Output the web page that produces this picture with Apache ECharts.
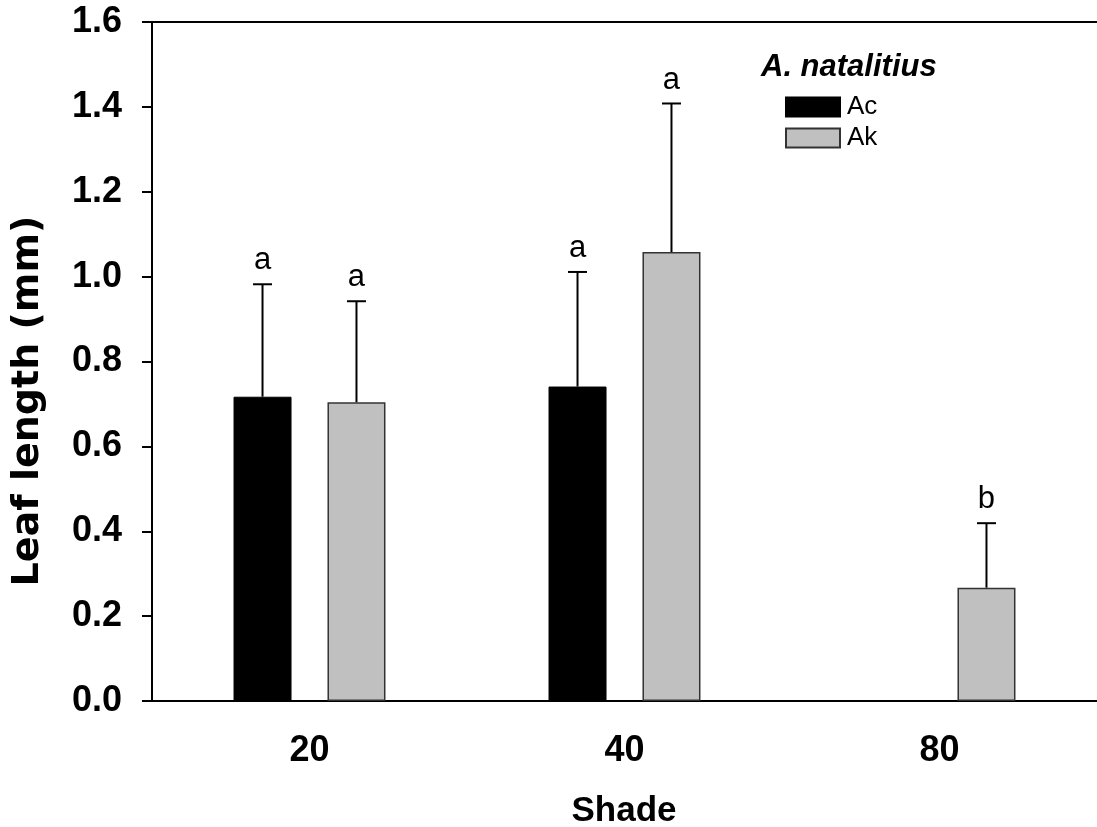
<!DOCTYPE html>
<html>
<head>
<meta charset="utf-8">
<script src="https://cdn.jsdelivr.net/npm/echarts@6/dist/echarts.min.js"></script>
<style>
html, body { margin: 0; padding: 0; background: #fff; }
#chart { width: 1097px; height: 827px; }
</style>
</head>
<body>
<div id="chart"></div>
<script>
// ---- values ----
const shadeLevels = ['20', '40', '80'];
const acMean = [0.717, 0.741, null];
const acErr = [0.265, 0.270, null];
const acLetters = ['a', 'a', ''];
const akMean = [0.704, 1.058, 0.267];
const akErr = [0.238, 0.350, 0.152];
const akLetters = ['a', 'a', 'b'];

// ---- look ----
const FONT = '"Liberation Sans", Arial, sans-serif';
const BAR_W = 58;
const BAR_GAP = 0.62;
const CAP_W = 19;

// upward-only error bar + significance letter, drawn over one bar series
function errorSeries(name, means, errs, letters, side) {
    return {
        type: 'custom',
        name: name + '-err',
        z: 5,
        silent: true,
        data: means.map((m, i) => [i, m == null ? 0 : m]),
        renderItem(params, api) {
            const i = params.dataIndex;
            if (means[i] == null) return null;
            const base = api.coord([i, means[i]]);
            const top = api.coord([i, means[i] + errs[i]]);
            const x = base[0] + side * BAR_W * (1 + BAR_GAP) / 2;
            const ink = { stroke: '#000', lineWidth: 2 };
            return {
                type: 'group',
                children: [
                    { type: 'line', shape: { x1: x, y1: base[1], x2: x, y2: top[1] }, style: ink },
                    { type: 'line', shape: { x1: x - CAP_W / 2, y1: top[1], x2: x + CAP_W / 2, y2: top[1] }, style: ink },
                    {
                        type: 'text', x: x, y: top[1] - 8,
                        style: { text: letters[i], fill: '#000', font: '31px ' + FONT, align: 'center', verticalAlign: 'bottom' },
                    },
                ],
            };
        },
    };
}

const chart = echarts.init(document.getElementById('chart'), null, { renderer: 'canvas' });

chart.setOption({
    animation: false,
    backgroundColor: '#fff',
    grid: { left: 152, right: -1, top: 22, bottom: 126, containLabel: false },
    legend: {
        data: ['Ac', 'Ak'],
        orient: 'vertical',
        left: 780,
        top: 89,
        itemWidth: 54,
        itemHeight: 19,
        itemGap: 5,
        selectedMode: false,
        icon: 'rect',
        textStyle: { fontFamily: FONT, fontSize: 26, color: '#000', padding: [0, 0, 0, 2] },
    },
    xAxis: [
        {
            type: 'category',
            data: shadeLevels,
            axisLine: { lineStyle: { color: '#000', width: 2 } },
            axisTick: { alignWithLabel: true, length: 9, lineStyle: { color: '#000', width: 2 } },
            axisLabel: { color: '#000', fontFamily: FONT, fontWeight: 'bold', fontSize: 36, margin: 32 },
        },
        {
            // top frame line
            type: 'category',
            position: 'top',
            data: shadeLevels,
            axisLine: { lineStyle: { color: '#000', width: 2 } },
            axisTick: { show: false },
            axisLabel: { show: false },
        },
    ],
    yAxis: {
        type: 'value',
        min: 0,
        max: 1.6,
        interval: 0.2,
        splitLine: { show: false },
        axisLine: { show: true, lineStyle: { color: '#000', width: 2 } },
        axisTick: { show: true, length: 10, lineStyle: { color: '#000', width: 2 } },
        axisLabel: {
            color: '#000', fontFamily: FONT, fontWeight: 'bold', fontSize: 36, margin: 30,
            formatter: v => v.toFixed(1),
        },
    },
    graphic: [
        {
            type: 'text', left: 761, top: 52,
            style: { text: 'A. natalitius', fill: '#000', font: 'italic bold 31px ' + FONT },
        },
        {
            type: 'text', x: 28, y: 401, rotation: Math.PI / 2,
            style: { text: 'Leaf length (mm)', fill: '#000', font: 'bold 38px "DejaVu Sans", sans-serif', align: 'center', verticalAlign: 'middle' },
        },
        {
            type: 'text', x: 624, y: 811,
            style: { text: 'Shade', fill: '#000', font: 'bold 35px ' + FONT, align: 'center', verticalAlign: 'middle' },
        },
    ],
    series: [
        {
            name: 'Ac', type: 'bar', data: acMean,
            barWidth: BAR_W, barGap: (BAR_GAP * 100) + '%',
            itemStyle: { color: '#000', borderColor: '#000', borderWidth: 1 },
        },
        {
            name: 'Ak', type: 'bar', data: akMean,
            barWidth: BAR_W, barGap: (BAR_GAP * 100) + '%',
            itemStyle: { color: '#c0c0c0', borderColor: '#333', borderWidth: 1.5 },
        },
        errorSeries('Ac', acMean, acErr, acLetters, -1),
        errorSeries('Ak', akMean, akErr, akLetters, 1),
    ],
});
</script>
</body>
</html>
